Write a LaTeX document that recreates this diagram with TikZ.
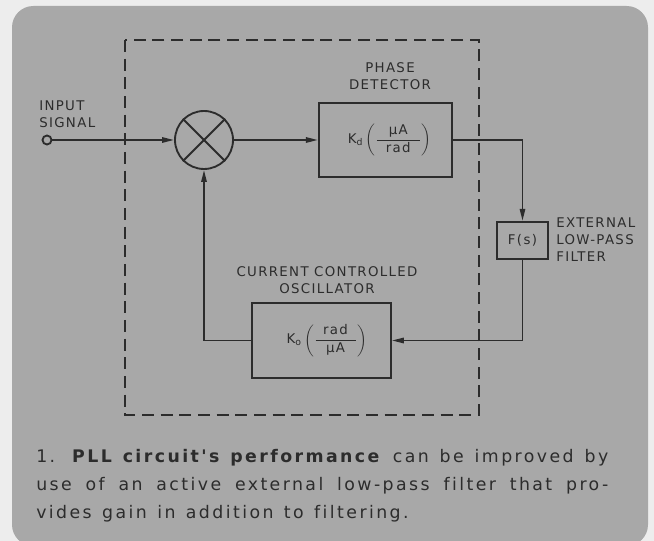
\documentclass[tikz,border=0pt]{standalone}
\usepackage{amsmath}
\usepackage{fontspec}
\setmainfont{DejaVu Sans}[Ligatures=NoCommon]
\newfontfamily\legende[LetterSpace=14, Ligatures=NoCommon]{DejaVu Sans}
\newfontfamily\etiq[LetterSpace=10, Ligatures=NoCommon]{DejaVu Sans}
\newcommand\espacement{\spaceskip=0.6em plus 0.5em minus 0.05em\relax}
\usetikzlibrary{arrows.meta}
\definecolor{fond}{HTML}{EDEDED}
\definecolor{panneau}{HTML}{A8A8A8}
\definecolor{trait}{HTML}{2C2C2C}

\begin{document}
\begin{tikzpicture}[
  x=0.75pt, y=-0.75pt,
  font=\etiq\fontsize{10}{12.8}\selectfont, text=trait,
  bloc/.style={draw=trait, line width=1.4pt, inner sep=0pt},
  titre/.style={align=center, inner sep=0pt},
  fl/.style={-{Triangle[length=9pt, width=4pt]}, draw=trait, line width=1.4pt},
  cadre/.style={draw=trait, line width=1.4pt, dash pattern=on 9pt off 5pt},
]
\useasboundingbox (0,0) rectangle (654,541);
\fill[fond] (0,0) rectangle (654,541);
\clip (0,0) rectangle (654,541);
% le panneau gris
\fill[panneau, rounded corners=16pt] (12,6) rectangle (648,546);
% la partie interne du circuit
\draw[cadre] (125,40) rectangle (479,415);
% entrée et comparateur de phase
\node[bloc, circle, minimum size=6.75pt, fill=panneau] (entree) at (47,140) {};
\node[titre, anchor=west, align=left] (nomentree) at (39,114) {INPUT\\SIGNAL};
\node[bloc, circle, minimum size=43.5pt] (melange) at (204,140) {};
\draw[trait, line width=1.4pt] (melange.north west) -- (melange.south east);
\draw[trait, line width=1.4pt] (melange.north east) -- (melange.south west);
% détecteur de phase
\node[bloc, minimum width=100pt, minimum height=55.5pt] (detect) at (385.5,140)
  {\hspace*{6pt}$\text{K}_{\text{d}}\,\biggl(\dfrac{\makebox[32pt]{µA}}{\makebox[32pt]{rad}}\biggr)$};
\node[titre] (nomdetect) at (390,76) {PHASE\\DETECTOR};
% filtre externe
\node[bloc, minimum width=38pt, minimum height=28pt] (filtre) at (522.5,240.5) {F(s)};
\node[titre, anchor=west, align=left] (nomfiltre) at (556,239.5) {EXTERNAL\\LOW-PASS\\FILTER};
% oscillateur
\node[bloc, minimum width=104pt, minimum height=56pt] (osc) at (321.5,340.5)
  {\hspace*{8pt}$\text{K}_{\text{o}}\,\biggl(\dfrac{\makebox[30pt]{rad}}{\makebox[30pt]{µA}}\biggr)$};
\node[titre] (nomosc) at (327,280.5) {CURRENT CONTROLLED\\OSCILLATOR};
% liaisons
\draw[fl] (entree) -- (melange);
\draw[fl] (melange) -- (detect);
\draw[fl] (detect.east) -| (filtre.north);
\draw[fl] (filtre.south) |- (osc.east);
\draw[fl] (osc.west) -| (melange.south);
% légende
\node[anchor=north west, inner sep=0pt, text width=429pt, align=justify,
      font=\legende\fontsize{13}{21}\selectfont] (legende) at (36,449)
  {\espacement 1. \textbf{PLL circuit's performance} can be improved by\linebreak
   use of an active external low-pass filter that pro-\linebreak
   vides gain in addition to filtering.};
\end{tikzpicture}
\end{document}
